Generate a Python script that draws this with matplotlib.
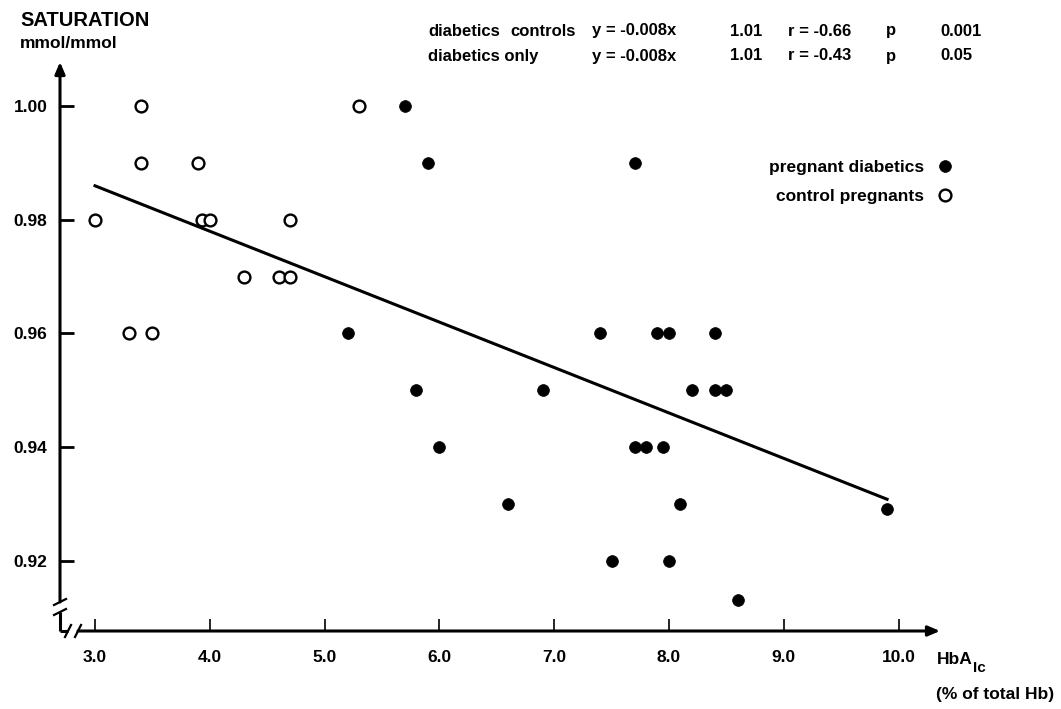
import numpy as np
import matplotlib
matplotlib.use("Agg")
import matplotlib.pyplot as plt

plt.rcParams["font.family"] = ["Liberation Sans", "DejaVu Sans"]
plt.rcParams["font.weight"] = "bold"

# === Data ===
# pregnant diabetics (filled)
diab_hba = [5.2, 5.7, 5.8, 5.9, 6.0, 6.6, 6.9, 7.4, 7.5, 7.7, 7.7, 7.8, 7.9,
            7.95, 8.0, 8.0, 8.1, 8.2, 8.4, 8.4, 8.5, 8.6, 9.9]
diab_sat = [0.96, 1.00, 0.95, 0.99, 0.94, 0.93, 0.95, 0.96, 0.92, 0.99, 0.94, 0.94, 0.96,
            0.94, 0.96, 0.92, 0.93, 0.95, 0.95, 0.96, 0.95, 0.913, 0.929]

# control pregnants (open)
ctrl_hba = [3.0, 3.3, 3.4, 3.4, 3.5, 3.9, 3.93, 4.0, 4.3, 4.6, 4.7, 4.7, 5.3]
ctrl_sat = [0.98, 0.96, 1.00, 0.99, 0.96, 0.99, 0.98, 0.98, 0.97, 0.97, 0.97, 0.98, 1.00]

# regression line (diabetics + controls)
slope, intercept = -0.008, 1.01
fit_range = [3.0, 9.9]

x_ticks = [3.0, 4.0, 5.0, 6.0, 7.0, 8.0, 9.0, 10.0]
x_ticklabels = ["3.0", "4.0", "5.0", "6.0", "7.0", "8.0", "9.0", "10.0"]
y_ticks = [0.92, 0.94, 0.96, 0.98, 1.00]
y_ticklabels = ["0.92", "0.94", "0.96", "0.98", "1.00"]

header_rows = [
    ["diabetics", "controls", "y = -0.008x", "1.01", "r = -0.66", "p", "0.001"],
    ["diabetics only", "", "y = -0.008x", "1.01", "r = -0.43", "p", "0.05"],
]

W, H = 1061, 709
fig = plt.figure(figsize=(W / 100, H / 100), dpi=100)

def fx(px):
    return px / W

def fy(py):
    return 1 - py / H

# axes box: left/bottom edges are the drawn axis lines
ax = fig.add_axes([fx(60), fy(631), fx(940) - fx(60), fy(62) - fy(631)])
x0, x1 = 2.695, 10.361
y0, y1 = 0.9076, 1.0078
ax.set_xlim(x0, x1)
ax.set_ylim(y0, y1)
for s in ax.spines.values():
    s.set_visible(False)

ux = (x1 - x0) / 880   # data units per pixel
uy = (y1 - y0) / 569

# --- axis lines with breaks and arrows ---
lw = 2.2
arrow = dict(arrowstyle="-|>,head_length=0.7,head_width=0.3",
             color="black", lw=lw, shrinkA=0, shrinkB=0)

ax.plot([x0, x0], [y0, y0 + 19 * uy], color="black", lw=lw, clip_on=False,
        solid_capstyle="butt")
ax.annotate("", xy=(x0, y1), xytext=(x0, y0 + 29 * uy), arrowprops=arrow,
            annotation_clip=False)
for yb in [y0 + 19 * uy, y0 + 29 * uy]:
    ax.plot([x0 - 6 * ux, x0 + 6 * ux], [yb - 3 * uy, yb + 3 * uy],
            color="black", lw=1.6, clip_on=False)

ax.plot([x0, x0 + 8 * ux], [y0, y0], color="black", lw=lw, clip_on=False,
        solid_capstyle="butt")
ax.annotate("", xy=(x1, y0), xytext=(x0 + 18 * ux, y0), arrowprops=arrow,
            annotation_clip=False)
for xb in [x0 + 8 * ux, x0 + 18 * ux]:
    ax.plot([xb - 3 * ux, xb + 3 * ux], [y0 - 6 * uy, y0 + 6 * uy],
            color="black", lw=1.6, clip_on=False)

# --- ticks ---
ax.set_xticks(x_ticks)
ax.set_xticklabels(x_ticklabels)
ax.set_yticks(y_ticks)
ax.set_yticklabels(y_ticklabels)
ax.tick_params(axis="x", direction="in", length=9, width=1.2, pad=14, labelsize=12.5)
ax.tick_params(axis="y", direction="in", length=10, width=2, pad=9, labelsize=12.5)

# --- data ---
fit_y = [slope * v + intercept for v in fit_range]
ax.plot(fit_range, fit_y, color="black", lw=2.2, clip_on=False)

h_diab, = ax.plot(diab_hba, diab_sat, linestyle="none", marker="o", ms=8.5,
                  mfc="black", mec="black", mew=0.5, clip_on=False)
h_ctrl, = ax.plot(ctrl_hba, ctrl_sat, linestyle="none", marker="o", ms=8.5,
                  mfc="white", mec="black", mew=1.7, clip_on=False)

leg = ax.legend([h_diab, h_ctrl], ["pregnant diabetics", "control pregnants"],
                markerfirst=False, frameon=False, loc="upper left",
                bbox_to_anchor=(fx(769), fy(160)), bbox_transform=fig.transFigure,
                handlelength=1.0, handletextpad=0.7, labelspacing=0.8,
                prop=dict(size=12.5, weight="bold"), borderpad=0, borderaxespad=0)

# --- texts ---
fig.text(fx(20), fy(20), "SATURATION", fontsize=14.5, va="center", ha="left")
fig.text(fx(20), fy(43), "mmol/mmol", fontsize=12.5, va="center", ha="left")

hba = fig.text(fx(937), fy(660), "HbA", fontsize=12.5, va="center", ha="left")
ax.annotate("Ic", xy=(1.0, 0.45), xycoords=hba, fontsize=11, va="top", ha="left")
fig.text(fx(936), fy(694), "(% of total Hb)", fontsize=12.5, va="center", ha="left")

col_x = [428, 510, 592, 730, 788, 886, 940]
row_y = [31, 56]
for ry, row in zip(row_y, header_rows):
    for cx, txt in zip(col_x, row):
        if txt:
            fig.text(fx(cx), fy(ry), txt, fontsize=12, va="center", ha="left")

fig.savefig("out.png", dpi=100)
